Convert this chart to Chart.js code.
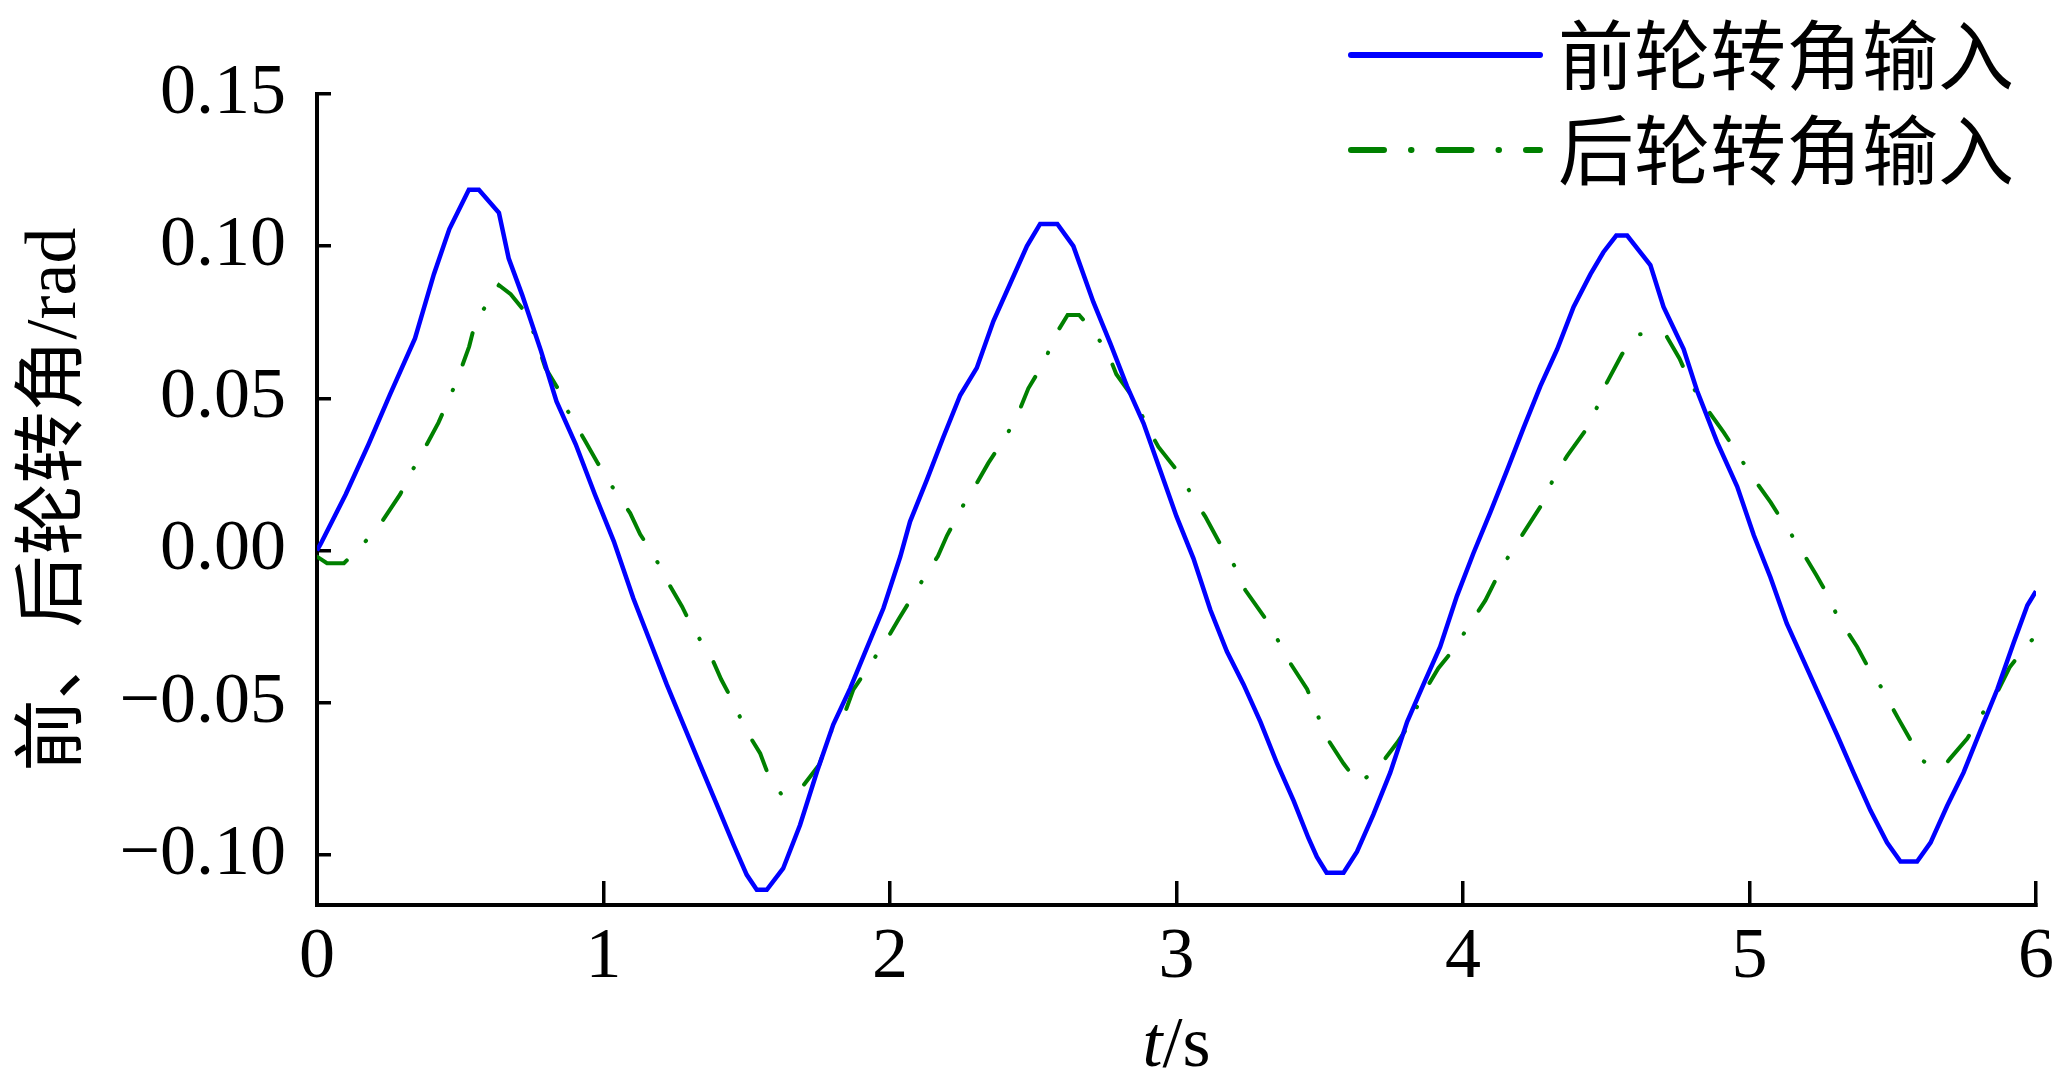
<!DOCTYPE html>
<html>
<head>
<meta charset="utf-8">
<script src="https://cdn.jsdelivr.net/npm/chart.js@4.4.1/dist/chart.umd.min.js"></script>
<style>
  html, body { margin: 0; padding: 0; background: #fff; }
  #wrap { width: 2056px; height: 1090px; position: relative; }
</style>
</head>
<body>
<div id="wrap"><canvas id="steerChart"></canvas></div>
<script>
// tick values
const xTicks = [0, 1, 2, 3, 4, 5, 6];
const yTicks = [0.15, 0.10, 0.05, 0, -0.05, -0.10];

const seriesLabels = ["前轮转角输入", "后轮转角输入"];

// front wheel input
const frontTime = [0, 0.014, 0.10, 0.18, 0.255, 0.342, 0.408, 0.462, 0.53, 0.565,
  0.635, 0.669, 0.716, 0.782, 0.836, 0.903, 0.97, 1.036, 1.104, 1.163,
  1.221, 1.279, 1.337, 1.396, 1.454, 1.50, 1.535, 1.57, 1.627, 1.686,
  1.745, 1.802, 1.861, 1.919, 1.977, 2.036, 2.07, 2.129, 2.186, 2.245,
  2.303, 2.361, 2.42, 2.478, 2.524, 2.584, 2.64, 2.71, 2.77, 2.827,
  2.885, 2.943, 3.0, 3.059, 3.118, 3.176, 3.234, 3.293, 3.351, 3.409,
  3.46, 3.49, 3.524, 3.583, 3.63, 3.687, 3.746, 3.805, 3.862, 3.92,
  3.979, 4.036, 4.096, 4.154, 4.211, 4.27, 4.329, 4.386, 4.445, 4.49,
  4.535, 4.573, 4.654, 4.70, 4.77, 4.817, 4.887, 4.957, 5.015, 5.073,
  5.13, 5.189, 5.248, 5.307, 5.363, 5.422, 5.48, 5.527, 5.585, 5.632,
  5.69, 5.747, 5.806, 5.865, 5.922, 5.97, 6.0];
const frontAngle = [0, 0.0024, 0.0184, 0.0349, 0.0513, 0.0697, 0.0908, 0.1056, 0.1185, 0.1185,
  0.111, 0.096, 0.084, 0.0655, 0.049, 0.0349, 0.0184, 0.003, -0.0157, -0.030,
  -0.0441, -0.0572, -0.0704, -0.0836, -0.0967, -0.1066, -0.1115, -0.1115, -0.1045, -0.0902,
  -0.0727, -0.0572, -0.0453, -0.0321, -0.019, -0.002, 0.0095, 0.0233, 0.0372, 0.051,
  0.060, 0.0754, 0.0878, 0.100, 0.1073, 0.1073, 0.100, 0.0816, 0.0678, 0.054,
  0.0418, 0.0264, 0.0112, -0.0026, -0.0195, -0.0332, -0.044, -0.0563, -0.070, -0.0823,
  -0.0944, -0.1007, -0.1059, -0.1059, -0.099, -0.0868, -0.073, -0.0563, -0.044, -0.0317,
  -0.0149, -0.001, 0.0127, 0.0264, 0.0402, 0.054, 0.0662, 0.080, 0.0908, 0.098,
  0.1035, 0.1035, 0.0938, 0.080, 0.0662, 0.0525, 0.0356, 0.021, 0.005, -0.0088,
  -0.024, -0.0363, -0.0486, -0.0609, -0.073, -0.0854, -0.096, -0.1022, -0.1022, -0.096,
  -0.0839, -0.073, -0.0592, -0.0456, -0.0303, -0.018, -0.0134];

// rear wheel input
const rearTime = [0, 0.035, 0.094, 0.16, 0.22, 0.29, 0.325, 0.367, 0.424, 0.457,
  0.489, 0.531, 0.552, 0.595, 0.635, 0.676, 0.733, 0.762, 0.797, 0.842,
  0.876, 0.936, 0.98, 1.023, 1.093, 1.128, 1.174, 1.233, 1.274, 1.312,
  1.378, 1.411, 1.448, 1.50, 1.547, 1.575, 1.62, 1.662, 1.70, 1.753,
  1.794, 1.844, 1.872, 1.942, 1.987, 2.03, 2.12, 2.167, 2.199, 2.256,
  2.301, 2.343, 2.408, 2.45, 2.483, 2.542, 2.57, 2.62, 2.66, 2.71,
  2.76, 2.79, 2.86, 2.894, 2.937, 3.013, 3.054, 3.10, 3.159, 3.205,
  3.24, 3.31, 3.351, 3.39, 3.456, 3.488, 3.52, 3.583, 3.635, 3.70,
  3.77, 3.819, 3.851, 3.914, 3.966, 4.014, 4.078, 4.117, 4.159, 4.284,
  4.316, 4.363, 4.433, 4.468, 4.50, 4.555, 4.611, 4.68, 4.71, 4.756,
  4.794, 4.84, 4.91, 4.957, 5.004, 5.074, 5.12, 5.169, 5.232, 5.273,
  5.307, 5.376, 5.414, 5.458, 5.521, 5.559, 5.594, 5.63, 5.68, 5.70,
  5.76, 5.806, 5.87, 5.908, 5.963, 6.0];
const rearAngle = [-0.002, -0.0042, -0.0042, 0.002, 0.0085, 0.0184, 0.025, 0.032, 0.042, 0.049,
  0.056, 0.067, 0.0747, 0.0813, 0.0872, 0.0842, 0.0776, 0.070, 0.060, 0.053,
  0.0457, 0.036, 0.0287, 0.022, 0.0123, 0.0053, -0.0013, -0.0118, -0.0184, -0.0256,
  -0.0354, -0.0424, -0.049, -0.0595, -0.0667, -0.0737, -0.080, -0.080, -0.0769, -0.0704,
  -0.0595, -0.053, -0.0457, -0.0359, -0.0295, -0.0226, -0.0088, -0.0019, 0.0049, 0.0149,
  0.0218, 0.0287, 0.038, 0.0456, 0.0533, 0.0625, 0.0697, 0.0774, 0.0774, 0.072,
  0.065, 0.0579, 0.0487, 0.0413, 0.034, 0.025, 0.018, 0.0112, 0.001, -0.0054,
  -0.013, -0.0223, -0.029, -0.036, -0.0456, -0.0529, -0.0609, -0.070, -0.0765, -0.0719,
  -0.0632, -0.0563, -0.0486, -0.0387, -0.0326, -0.0257, -0.0164, -0.0091, -0.0019, 0.0164,
  0.0238, 0.031, 0.0402, 0.0471, 0.0548, 0.0645, 0.0711, 0.0705, 0.0705, 0.063,
  0.055, 0.048, 0.0388, 0.032, 0.025, 0.0158, 0.0089, 0.002, -0.0079, -0.0146,
  -0.0217, -0.0317, -0.0384, -0.0447, -0.0555, -0.0618, -0.0684, -0.0707, -0.0707, -0.0684,
  -0.0618, -0.0546, -0.0456, -0.0384, -0.0317, -0.028];

const serif = "'Liberation Serif', 'Times New Roman', serif";
const cjk = "'Noto Sans CJK SC', sans-serif";

const fmtY = v => (v < 0 ? "\u2212" : "") + Math.abs(v).toFixed(2);

// legend in the top right corner + "t/s" axis title with italic t
const overlayText = {
  id: "overlayText",
  afterDraw(chart) {
    const ctx = chart.ctx;
    const xs = chart.scales.x;
    ctx.save();
    ctx.fillStyle = "#000";

    ctx.textBaseline = "alphabetic";
    ctx.textAlign = "left";
    ctx.font = "italic 72px " + serif;
    const wT = ctx.measureText("t").width;
    ctx.font = "72px " + serif;
    const wS = ctx.measureText("/s").width;
    const x0 = (xs.left + xs.right) / 2 - (wT + wS) / 2;
    const yb = xs.bottom - 24;
    ctx.font = "italic 72px " + serif;
    ctx.fillText("t", x0, yb);
    ctx.font = "72px " + serif;
    ctx.fillText("/s", x0 + wT, yb);

    chart.data.datasets.forEach((ds, i) => {
      const y = 55 + i * 95;
      ctx.beginPath();
      ctx.strokeStyle = ds.borderColor;
      ctx.lineWidth = 6;
      ctx.lineCap = "round";
      ctx.setLineDash(ds.borderDash || []);
      ctx.moveTo(1351, y);
      ctx.lineTo(1540, y);
      ctx.stroke();
      ctx.setLineDash([]);
      ctx.font = "76px " + cjk;
      ctx.textBaseline = "middle";
      ctx.fillText(ds.label, 1558, y);
    });
    ctx.restore();
  }
};

new Chart(document.getElementById("steerChart"), {
  type: "line",
  data: {
    datasets: [
      {
        label: seriesLabels[0],
        data: frontTime.map((t, i) => ({ x: t, y: frontAngle[i] })),
        borderColor: "#0000ff",
        borderWidth: 4.5,
        pointRadius: 0,
        tension: 0,
        fill: false,
      },
      {
        label: seriesLabels[1],
        data: rearTime.map((t, i) => ({ x: t, y: rearAngle[i] })),
        borderColor: "#008000",
        borderWidth: 4,
        borderDash: [33, 27, 0.5, 27],
        borderCapStyle: "round",
        pointRadius: 0,
        tension: 0,
        fill: false,
      },
    ],
  },
  options: {
    responsive: true,
    maintainAspectRatio: false,
    animation: false,
    layout: { padding: { top: 94, right: 20, left: 0, bottom: 0 } },
    plugins: { legend: { display: false }, tooltip: { enabled: false } },
    scales: {
      x: {
        type: "linear",
        min: 0,
        max: 6,
        afterBuildTicks: s => { s.ticks = xTicks.map(v => ({ value: v })); },
        afterFit: s => { s.height = 185; s.paddingLeft = 0; s.paddingRight = 0; },
        grid: { drawOnChartArea: false, tickLength: -24, lineWidth: 3.5, color: "#000" },
        border: { width: 4, color: "#000" },
        ticks: {
          font: { family: serif, size: 72 },
          color: "#000",
          padding: 34,
          maxRotation: 0,
          autoSkip: false,
          callback: v => String(v),
        },
      },
      y: {
        min: -0.1165,
        max: 0.15,
        afterBuildTicks: s => { s.ticks = yTicks.map(v => ({ value: v })); },
        afterFit: s => { s.width = 317; s.paddingTop = 0; s.paddingBottom = 0; },
        grid: { drawOnChartArea: false, tickLength: -14, lineWidth: 3.5, color: "#000" },
        border: { width: 4, color: "#000" },
        ticks: {
          font: { family: serif, size: 72 },
          color: "#000",
          padding: 45,
          autoSkip: false,
          callback: v => fmtY(v),
        },
        title: {
          display: true,
          text: "前、后轮转角/rad",
          font: { family: "'Liberation Serif', 'Noto Sans CJK SC', serif", size: 72 },
          color: "#000",
          padding: { top: 13, bottom: 0 },
        },
      },
    },
  },
  plugins: [overlayText],
});
</script>
</body>
</html>
